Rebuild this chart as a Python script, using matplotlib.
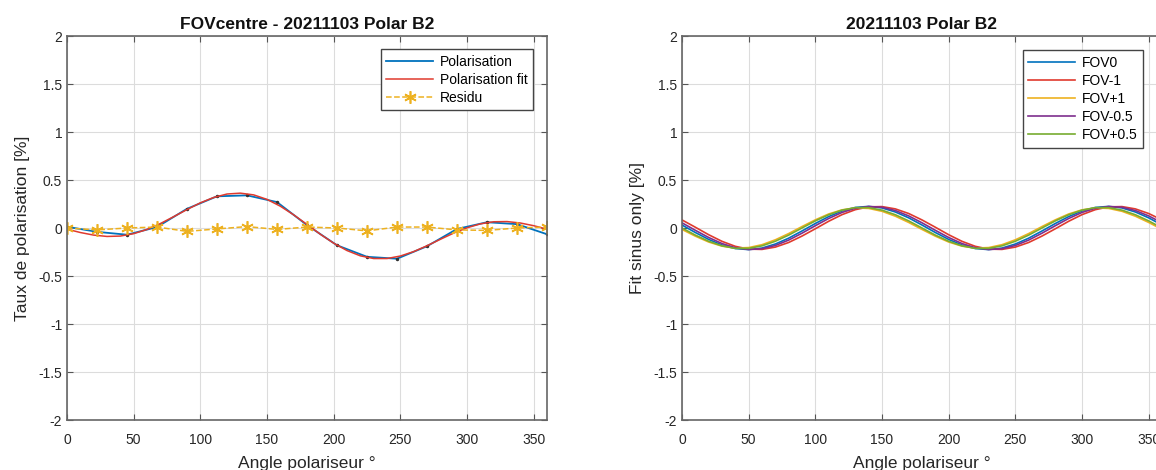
import numpy as np
import matplotlib
matplotlib.use('Agg')
import matplotlib.pyplot as plt

plt.rcParams['font.family'] = ['Liberation Sans', 'DejaVu Sans']
plt.rcParams['axes.unicode_minus'] = False

# Left panel: measured polarisation, fit and residual
angle_pts = [0, 22.5, 45, 67.5, 90, 112.5, 135, 157.5, 180, 202.5, 225, 247.5, 270, 292.5, 315, 337.5, 360]
polar = [0.013, -0.04, -0.07, 0.01, 0.20, 0.33, 0.34, 0.27, 0.03, -0.18, -0.30, -0.32, -0.19, -0.01, 0.06, 0.04, -0.065]
residu = [0.0, -0.02, 0.0, 0.01, -0.035, -0.01, 0.015, -0.015, 0.01, 0.0, -0.03, 0.01, 0.01, -0.02, -0.025, 0.0, 0.01]

angle_fit = list(range(0, 361, 10))
polar_fit = [-0.012, -0.047, -0.074, -0.088, -0.084, -0.059, -0.015, 0.046, 0.118, 0.192, 0.262, 0.318,
             0.354, 0.363, 0.345, 0.298, 0.227, 0.137, 0.037, -0.065, -0.158, -0.235, -0.290, -0.318,
             -0.318, -0.292, -0.246, -0.185, -0.118, -0.053, 0.002, 0.043, 0.065, 0.067, 0.052, 0.024, -0.012]

# Right panel: sine-only fits per FOV
half_b = [0.031, -0.047, -0.119, -0.177, -0.214, -0.225, -0.209, -0.167, -0.106,
          -0.031, 0.047, 0.119, 0.177, 0.214, 0.225, 0.209, 0.167, 0.106]
half_r = [0.084, 0.008, -0.070, -0.139, -0.191, -0.220, -0.223, -0.199, -0.151,
          -0.084, -0.008, 0.070, 0.139, 0.191, 0.220, 0.223, 0.199, 0.151]
fov0 = half_b + half_b + [0.031]
fov_m1 = half_r + half_r + [0.084]
fov_p1 = [-0.015, -0.085, -0.146, -0.189, -0.209, -0.204, -0.174, -0.123, -0.058, 0.015, 0.085, 0.146, 0.189,
          0.209, 0.204, 0.174, 0.123, 0.058, -0.015, -0.085, -0.146, -0.189, -0.209, -0.204, -0.174, -0.123,
          -0.058, 0.015, 0.085, 0.146, 0.189, 0.209, 0.204, 0.174, 0.123, 0.058, -0.015]
fov_m05 = [0.054, -0.024, -0.099, -0.162, -0.206, -0.224, -0.216, -0.182, -0.126, -0.054, 0.024, 0.099, 0.162,
           0.206, 0.224, 0.216, 0.182, 0.126, 0.054, -0.024, -0.099, -0.162, -0.206, -0.224, -0.216, -0.182,
           -0.126, -0.054, 0.024, 0.099, 0.162, 0.206, 0.224, 0.216, 0.182, 0.126, 0.054]
fov_p05 = [0.0, -0.074, -0.138, -0.186, -0.212, -0.212, -0.186, -0.138, -0.074, 0.0, 0.074, 0.138, 0.186,
           0.212, 0.212, 0.186, 0.138, 0.074, 0.0, -0.074, -0.138, -0.186, -0.212, -0.212, -0.186, -0.138,
           -0.074, 0.0, 0.074, 0.138, 0.186, 0.212, 0.212, 0.186, 0.138, 0.074, 0.0]

xticks = list(range(0, 351, 50))
yticks = [-2, -1.5, -1, -0.5, 0, 0.5, 1, 1.5, 2]
ytick_labels = ['-2', '-1.5', '-1', '-0.5', '0', '0.5', '1', '1.5', '2']

BLUE = '#0072BD'
RED = '#E03A2E'
YELLOW = '#EDB120'
PURPLE = '#7E2F8E'
GREEN = '#77AC30'

fig = plt.figure(figsize=(11.56, 4.70), dpi=100)
W, H = 1156, 470
ax1 = fig.add_axes([67 / W, 50 / H, 480 / W, 384 / H])
ax2 = fig.add_axes([682 / W, 50 / H, 480 / W, 384 / H])


def style(ax, title, ylabel):
    ax.set_xlim(0, 360)
    ax.set_ylim(-2, 2)
    ax.set_xticks(xticks)
    ax.set_yticks(yticks)
    ax.set_yticklabels(ytick_labels)
    ax.tick_params(direction='in', top=True, right=True, length=4, width=0.8,
                   labelsize=10, colors='#555555', labelcolor='#262626')
    ax.tick_params(axis='x', pad=9)
    ax.grid(True, color='#dcdcdc', linewidth=0.8)
    ax.set_axisbelow(True)
    for s in ax.spines.values():
        s.set_color('#666666')
        s.set_linewidth(1.2)
    ax.set_title(title, fontsize=12.5, fontweight='bold', pad=5, color='#111111')
    ax.set_xlabel('Angle polariseur °', fontsize=12.5, color='#262626', labelpad=7)
    ax.set_ylabel(ylabel, fontsize=12.5, color='#262626', labelpad=6)


# left
ax1.plot(angle_pts, polar, color=BLUE, lw=1.3, label='Polarisation')
ax1.plot(angle_pts, polar, ls='none', marker='.', ms=3, color='#333333')
ax1.plot(angle_fit, polar_fit, color=RED, lw=1.1, label='Polarisation fit')
ax1.plot(angle_pts, residu, color=YELLOW, ls='--', lw=1.1, marker=(6, 2, 0), ms=9,
         markeredgewidth=1.2, label='Residu')
style(ax1, 'FOVcentre - 20211103 Polar B2', 'Taux de polarisation [%]')
ax1.legend(loc='upper right', fontsize=10, frameon=True, fancybox=False, edgecolor='#444444',
           handlelength=3.4, handletextpad=0.45, labelspacing=0.3, borderpad=0.4,
           bbox_to_anchor=(533 / W, 1 - 49 / H), bbox_transform=fig.transFigure,
           borderaxespad=0, framealpha=1)

# right
for vals, col, lab in [(fov0, BLUE, 'FOV0'), (fov_m1, RED, 'FOV-1'), (fov_p1, YELLOW, 'FOV+1'),
                       (fov_m05, PURPLE, 'FOV-0.5'), (fov_p05, GREEN, 'FOV+0.5')]:
    ax2.plot(angle_fit, vals, color=col, lw=1.2, label=lab)
style(ax2, '20211103 Polar B2', 'Fit sinus only [%]')
ax2.legend(loc='upper right', fontsize=10, frameon=True, fancybox=False, edgecolor='#444444',
           handlelength=3.4, handletextpad=0.45, labelspacing=0.3, borderpad=0.4,
           bbox_to_anchor=(1143 / W, 1 - 50 / H), bbox_transform=fig.transFigure,
           borderaxespad=0, framealpha=1)

fig.savefig('out.png', dpi=100)
